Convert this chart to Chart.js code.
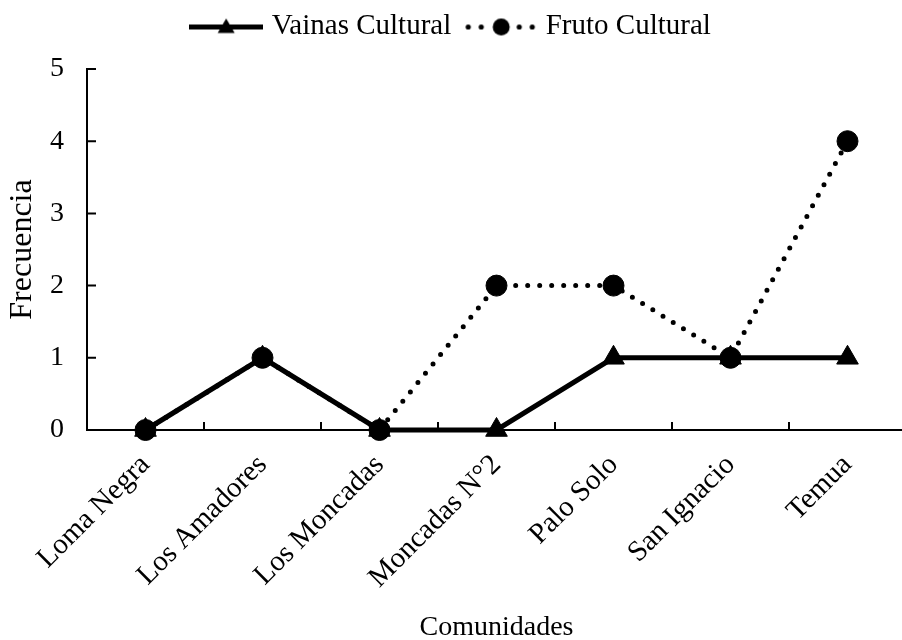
<!doctype html>
<html lang="es">

<head>
    <meta charset="utf-8">
    <style>
        html,
        body {
            margin: 0;
            padding: 0;
            width: 902px;
            height: 640px;
            overflow: hidden;
            background: #fff;
        }

        #chart {
            display: block;
            margin-top: -8px;
        }
    </style>
</head>

<body>
    <canvas id="chart" width="906" height="654"></canvas>

    <script src="https://cdn.jsdelivr.net/npm/chart.js@4/dist/chart.umd.min.js"></script>
    <script>
        // datos
        const comunidades = ['Loma Negra', 'Los Amadores', 'Los Moncadas', 'Moncadas N°2', 'Palo Solo', 'San Ignacio', 'Temua'];
        const vainasCultural = [0, 1, 0, 0, 1, 1, 1];
        const frutoCultural = [0, 1, 0, 2, 2, 1, 4];
        const yMin = 0;
        const yMax = 5;
        const yStep = 1;

        const serif = '"Liberation Serif", "Times New Roman", serif';

        // simbolos de la leyenda: linea + marcador
        function legendVainas() {
            const c = document.createElement('canvas');
            c.width = 74; c.height = 24;
            const g = c.getContext('2d');
            g.fillStyle = '#000';
            g.fillRect(0, 10, 74, 5);
            g.beginPath();
            g.moveTo(37, 4);
            g.lineTo(45.5, 18.5);
            g.lineTo(28.5, 18.5);
            g.closePath();
            g.fill();
            return c;
        }

        function legendFruto() {
            const c = document.createElement('canvas');
            c.width = 74; c.height = 24;
            const g = c.getContext('2d');
            g.fillStyle = '#000';
            [5, 18, 56, 69].forEach(function (x) {
                g.beginPath();
                g.arc(x, 12.5, 2.6, 0, Math.PI * 2);
                g.fill();
            });
            g.beginPath();
            g.arc(38, 12.5, 8.5, 0, Math.PI * 2);
            g.fill();
            return c;
        }

        const legendIcons = [legendVainas(), legendFruto()];

        // marcas de division hacia dentro del area
        const innerTicks = {
            id: 'innerTicks',
            beforeDatasetsDraw(chart) {
                const { ctx, scales: { x, y } } = chart;
                ctx.save();
                ctx.strokeStyle = '#000';
                ctx.lineWidth = 2;
                ctx.beginPath();
                for (let i = 0; i < comunidades.length - 1; i++) {
                    const px = Math.round(x.getPixelForValue(i + 0.5));
                    ctx.moveTo(px, y.bottom);
                    ctx.lineTo(px, y.bottom - 8);
                }
                y.ticks.forEach(function (t) {
                    const py = y.getPixelForValue(t.value);
                    ctx.moveTo(x.left, py);
                    ctx.lineTo(x.left + 9, py);
                });
                ctx.stroke();
                ctx.restore();
            }
        };

        // espacio entre la leyenda y el area del grafico
        const legendGap = {
            id: 'legendGap',
            beforeLayout(chart) {
                const lg = chart.legend;
                if (!lg || lg._gapDone) return;
                const fit = lg.fit;
                lg.fit = function () {
                    fit.call(this);
                    this.height = 75;
                };
                lg._gapDone = true;
            }
        };

        const ctx = document.getElementById('chart');
        const myChart = new Chart(ctx, {
            type: 'line',
            data: {
                labels: comunidades,
                datasets: [{
                    label: 'Vainas Cultural',
                    data: vainasCultural,
                    borderColor: '#000',
                    backgroundColor: '#000',
                    borderWidth: 5,
                    pointStyle: 'triangle',
                    pointRadius: 12.5,
                    pointBorderWidth: 1,
                    pointBackgroundColor: '#000',
                    pointBorderColor: '#000',
                    tension: 0,
                    clip: false,
                    order: 1
                }, {
                    label: 'Fruto Cultural',
                    data: frutoCultural,
                    borderColor: '#000',
                    backgroundColor: '#000',
                    borderWidth: 5,
                    borderDash: [0, 12],
                    borderCapStyle: 'round',
                    pointStyle: 'circle',
                    pointRadius: 10.5,
                    pointBorderWidth: 1,
                    pointBackgroundColor: '#000',
                    pointBorderColor: '#000',
                    tension: 0,
                    clip: false,
                    order: 0
                }]
            },
            options: {
                responsive: false,
                animation: false,
                devicePixelRatio: 1,
                layout: {
                    autoPadding: false,
                    padding: { top: 2, left: 0, right: 0, bottom: 0 }
                },
                plugins: {
                    tooltip: { enabled: false },
                    legend: {
                        position: 'top',
                        labels: {
                            color: '#000',
                            font: { family: serif, size: 29 },
                            usePointStyle: true,
                            pointStyleWidth: 62,
                            padding: 18,
                            sort: (a, b) => a.datasetIndex - b.datasetIndex,
                            generateLabels(chart) {
                                const items = Chart.defaults.plugins.legend.labels.generateLabels(chart);
                                items.forEach(function (it) {
                                    it.pointStyle = legendIcons[it.datasetIndex];
                                    it.lineWidth = 0;
                                });
                                return items;
                            }
                        }
                    }
                },
                scales: {
                    x: {
                        offset: true,
                        afterFit(scale) {
                            scale.height = 216;
                            scale.paddingLeft = 0;
                            scale.paddingRight = 0;
                        },
                        border: { display: true, color: '#000', width: 2 },
                        grid: { drawOnChartArea: false, drawTicks: false, offset: true },
                        ticks: {
                            color: '#000',
                            font: { family: serif, size: 29 },
                            minRotation: 45,
                            maxRotation: 45,
                            padding: 18,
                            autoSkip: false
                        },
                        title: {
                            display: true,
                            text: 'Comunidades',
                            color: '#000',
                            font: { family: serif, size: 28 },
                            padding: { top: 0, bottom: 2 }
                        }
                    },
                    y: {
                        min: yMin,
                        max: yMax,
                        afterFit(scale) {
                            scale.width = 87;
                        },
                        border: { display: true, color: '#000', width: 2 },
                        grid: { drawOnChartArea: false, drawTicks: false },
                        ticks: {
                            stepSize: yStep,
                            color: '#000',
                            font: { family: serif, size: 28 },
                            padding: 23
                        },
                        title: {
                            display: true,
                            text: 'Frecuencia',
                            color: '#000',
                            font: { family: serif, size: 32 },
                            padding: { top: 3, bottom: 0 }
                        }
                    }
                }
            },
            plugins: [innerTicks, legendGap]
        });
    </script>
</body>

</html>
